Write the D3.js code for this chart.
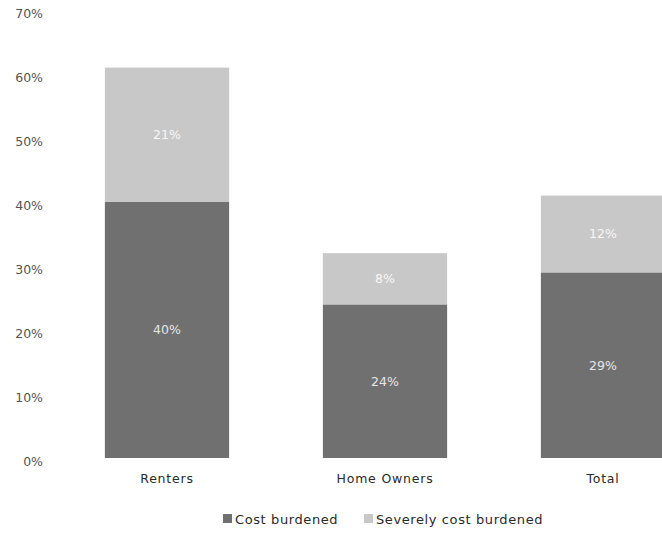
<!DOCTYPE html>
<html>
<head>
<meta charset="utf-8">
<script src="https://cdn.jsdelivr.net/npm/d3@7/dist/d3.min.js"></script>
<style>
  html, body { margin: 0; padding: 0; background: #ffffff; }
  svg { display: block; }
  text { font-family: "DejaVu Sans", "Liberation Sans", sans-serif; }
</style>
</head>
<body>
<div id="chart"></div>
<script>
// Housing cost burden by tenure (share of households)
const categories = ["Renters", "Home Owners", "Total"];
const costBurdened = [40, 24, 29];
const severelyBurdened = [21, 8, 12];
const seriesNames = ["Cost burdened", "Severely cost burdened"];
const yTicks = [0, 10, 20, 30, 40, 50, 60, 70];

const width = 662, height = 533;
const colors = ["#707070", "#c8c8c8"];

const svg = d3.select("#chart").append("svg")
  .attr("width", width).attr("height", height);

const x = d3.scaleBand()
  .domain(categories)
  .range([58, 712])
  .paddingInner(0.43)
  .paddingOuter(0.215);

const y = d3.scaleLinear().domain([0, 70]).range([458, 10]);

// stacked rows built from the two series
const rows = categories.map((c, i) => ({
  category: c,
  "Cost burdened": costBurdened[i],
  "Severely cost burdened": severelyBurdened[i]
}));
const stack = d3.stack().keys(seriesNames)(rows);

// y axis labels only (no axis line, no gridlines)
const yAxis = d3.axisLeft(y)
  .tickValues(yTicks)
  .tickFormat(d => d + "%")
  .tickSize(0)
  .tickPadding(0);
svg.append("g")
  .attr("transform", "translate(43,3)")
  .call(yAxis)
  .call(g => g.select(".domain").remove())
  .call(g => g.selectAll("text")
    .attr("fill", "#555555")
    .style("font-size", "12.5px")
    .style("font-family", "'DejaVu Sans', sans-serif"));

// bars
const layers = svg.append("g").selectAll("g")
  .data(stack).join("g")
  .attr("fill", (d, i) => colors[i]);

layers.selectAll("rect")
  .data(d => d)
  .join("rect")
  .attr("x", d => x(d.data.category))
  .attr("y", d => y(d[1]))
  .attr("width", x.bandwidth())
  .attr("height", d => y(d[0]) - y(d[1]));

// value labels centred in each segment
const labelColors = ["#e6e6e6", "#f7f7f7"];
stack.forEach((layer, li) => {
  svg.append("g").selectAll("text")
    .data(layer).join("text")
    .attr("x", d => x(d.data.category) + x.bandwidth() / 2)
    .attr("y", d => (y(d[0]) + y(d[1])) / 2)
    .attr("dy", "0.35em")
    .attr("text-anchor", "middle")
    .attr("fill", labelColors[li])
    .style("font-size", "12.5px")
    .text(d => (d[1] - d[0]) + "%");
});

// category axis
const xAxis = d3.axisBottom(x).tickSize(0).tickPadding(0);
svg.append("g")
  .attr("transform", "translate(0,479)")
  .call(xAxis)
  .call(g => g.select(".domain").remove())
  .call(g => g.selectAll("text")
    .attr("dy", "0.35em")
    .attr("fill", "#2a2a2a")
    .style("font-size", "12.5px")
    .style("letter-spacing", "0.8px")
    .style("font-family", "'DejaVu Sans', sans-serif"));

// legend
const legendItems = [
  { name: seriesNames[0], color: colors[0], x: 223 },
  { name: seriesNames[1], color: colors[1], x: 364 }
];
const legend = svg.append("g").selectAll("g")
  .data(legendItems).join("g")
  .attr("transform", d => `translate(${d.x},514)`);
legend.append("rect")
  .attr("width", 9).attr("height", 9)
  .attr("fill", d => d.color);
legend.append("text")
  .attr("x", 12).attr("y", 5)
  .attr("dy", "0.35em")
  .attr("fill", "#2a2a2a")
  .style("font-size", "13px")
  .style("letter-spacing", "0.6px")
  .text(d => d.name);
</script>
</body>
</html>
